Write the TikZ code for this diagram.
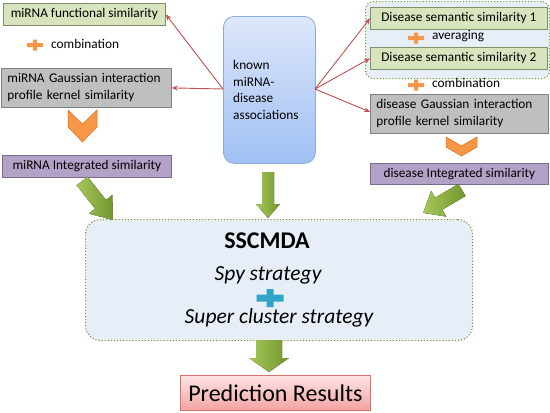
\documentclass[tikz,border=0pt]{standalone}
\usepackage{fontspec}
\setmainfont{Carlito}
\usetikzlibrary{arrows.meta,calc}
\definecolor{boxgreen}{HTML}{D7E4BD}
\definecolor{boxgreenb}{HTML}{7F8F6A}
\definecolor{boxgray}{HTML}{BFBFBF}
\definecolor{boxgrayb}{HTML}{7F7F7F}
\definecolor{boxpurple}{HTML}{B3A2C7}
\definecolor{boxpurpleb}{HTML}{7A6A8E}
\definecolor{knowntop}{HTML}{DDE7F9}
\definecolor{knownbot}{HTML}{A0C0F4}
\definecolor{knownb}{HTML}{8EAADB}
\definecolor{groupfill}{HTML}{E7EEF7}
\definecolor{dotgreen}{HTML}{6E9A2E}
\definecolor{redline}{HTML}{C0504D}
\definecolor{arrtop}{HTML}{A5C85A}
\definecolor{arrbot}{HTML}{73952F}
\definecolor{orangef}{HTML}{F79646}
\definecolor{oranged}{HTML}{E46C0A}
\definecolor{bluep}{HTML}{31A5C9}
\definecolor{predtop}{HTML}{FDE4E4}
\definecolor{predbot}{HTML}{F3A3A3}
\definecolor{predb}{HTML}{D9706E}
\newcommand\myplus[6]{% cx, cy, half width, half height, half thickness, colour
  \fill[#6] (#1-#3,#2-#5) -- (#1-#5,#2-#5) -- (#1-#5,#2-#4) -- (#1+#5,#2-#4) -- (#1+#5,#2-#5) -- (#1+#3,#2-#5)
   -- (#1+#3,#2+#5) -- (#1+#5,#2+#5) -- (#1+#5,#2+#4) -- (#1-#5,#2+#4) -- (#1-#5,#2+#5) -- (#1-#3,#2+#5) -- cycle;}
\newcommand\blockarrow[6]{% tail, angle, length, shaft hw, head hw, head length
  \begin{scope}[shift={(#1)},rotate=#2]
  \fill[greenarrow] (0,-#4) -- (#3-#6,-#4) -- (#3-#6,-#5) -- (#3,0) -- (#3-#6,#5) -- (#3-#6,#4) -- (0,#4) -- cycle;
  \end{scope}}
\tikzset{
  sbox/.style={draw=#1, line width=0.8pt, inner sep=0pt, anchor=north west, font=\fontsize{13.3}{17}\selectfont},
  greenarrow/.style={left color=arrtop, right color=arrbot},
  redarrow/.style={draw=redline, line width=0.9pt, -{Stealth[length=6pt,width=5pt]}},
  chev/.style={fill=orangef, draw=oranged, line width=0.5pt},
  lbl/.style={font=\fontsize{13.3}{15}\selectfont, inner sep=0pt, anchor=west}
}
\begin{document}
\begin{tikzpicture}[x=1pt,y=-1pt]
\useasboundingbox (0,0) rectangle (550,413);
% right group
\node[draw=dotgreen, dotted, line width=1.1pt, fill=groupfill, rounded corners=8pt, minimum width=184pt, minimum height=77pt, anchor=north west, inner sep=0pt] (grp) at (365,1) {};
% left boxes
\node[sbox=boxgreenb, fill=boxgreen, minimum width=162pt, minimum height=22pt] (mfs) at (3,3) {miRNA functional similarity};
\myplus{35}{45}{8}{5.5}{2}{orangef}
\node[lbl] (comb1) at (51,44) {combination};
\node[sbox=boxgrayb, fill=boxgray, minimum width=170pt, minimum height=39pt, text width=166pt, align=left] (mgk) at (1,68) {\hspace*{4pt}miRNA Gaussian interaction\\\hspace*{4pt}profile kernel similarity};
\draw[chev] (68,110) -- (82.5,124) -- (97,110) -- (97,127) -- (82.5,142) -- (68,127) -- cycle;
\node[sbox=boxpurpleb, fill=boxpurple, minimum width=169pt, minimum height=22pt] (mis) at (2,155) {miRNA Integrated similarity};
% known
\node[draw=knownb, line width=0.8pt, top color=knowntop, bottom color=knownbot, rounded corners=11pt, minimum width=92pt, minimum height=147pt, anchor=north west, inner sep=0pt] (known) at (223,16) {};
\node[font=\fontsize{13.3}{16.8}\selectfont, align=left, anchor=west, inner sep=0pt] (knowntxt) at (233,90) {known\\miRNA-\\disease\\associations};
% right boxes
\node[sbox=boxgreenb, fill=boxgreen, minimum width=177pt, minimum height=22pt] (ds1) at (370,7) {Disease semantic similarity 1};
\myplus{416}{38}{8}{5.5}{2}{orangef}
\node[lbl] (avg) at (432,36) {averaging};
\node[sbox=boxgreenb, fill=boxgreen, minimum width=177pt, minimum height=22pt] (ds2) at (370,47) {Disease semantic similarity 2};
\myplus{416}{85}{8}{5.5}{2}{orangef}
\node[lbl] (comb2) at (432,83) {combination};
\node[sbox=boxgrayb, fill=boxgray, minimum width=178pt, minimum height=39pt, text width=174pt, align=left] (dgk) at (370,94) {\hspace*{4pt}disease Gaussian interaction\\\hspace*{4pt}profile kernel similarity};
\draw[chev] (446,137) -- (461.5,146) -- (477,137) -- (477,147) -- (461.5,156) -- (446,147) -- cycle;
\node[sbox=boxpurpleb, fill=boxpurple, minimum width=178pt, minimum height=21pt] (dis) at (370,163) {disease Integrated similarity};
% red arrows
\coordinate (kl) at (223,89);
\coordinate (kr) at (315,89);
\draw[redarrow] (kl) -- (mfs.east);
\draw[redarrow] (kl) -- (mgk.east);
\draw[redarrow] (kr) -- (ds1.west);
\draw[redarrow] (kr) -- (ds2.west);
\draw[redarrow] (kr) -- ($(dgk.north west)!0.45!(dgk.south west)$);
% main box
\node[draw=dotgreen, dotted, line width=1.1pt, fill=groupfill, rounded corners=15pt, minimum width=387pt, minimum height=121pt, anchor=north west, inner sep=0pt] (main) at (85,219) {};
\node[font=\fontsize{24}{26}\selectfont\bfseries, inner sep=0pt] (ssc) at (267,241) {SSCMDA};
\node[font=\fontsize{21.5}{24}\selectfont\itshape, inner sep=0pt] (spy) at (268,275) {Spy strategy};
\myplus{270}{298}{13.5}{9}{3.5}{bluep}
\node[font=\fontsize{21.5}{24}\selectfont\itshape, inner sep=0pt] (sup) at (279,318) {Super cluster strategy};
% prediction
\node[draw=predb, line width=0.8pt, top color=predtop, bottom color=predbot, minimum width=190pt, minimum height=35pt, anchor=north west, inner sep=0pt, font=\fontsize{24}{26}\selectfont] (pred) at (180,375) {Prediction Results};
% green arrows
\blockarrow{82,181}{-51.5}{49.8}{7}{15}{20}
\blockarrow{268,172}{-90}{46}{6}{12}{14}
\blockarrow{462,190}{-149.5}{45}{7}{15}{18}
\blockarrow{269,340}{-90}{32}{13}{20}{14}
\end{tikzpicture}
\end{document}
